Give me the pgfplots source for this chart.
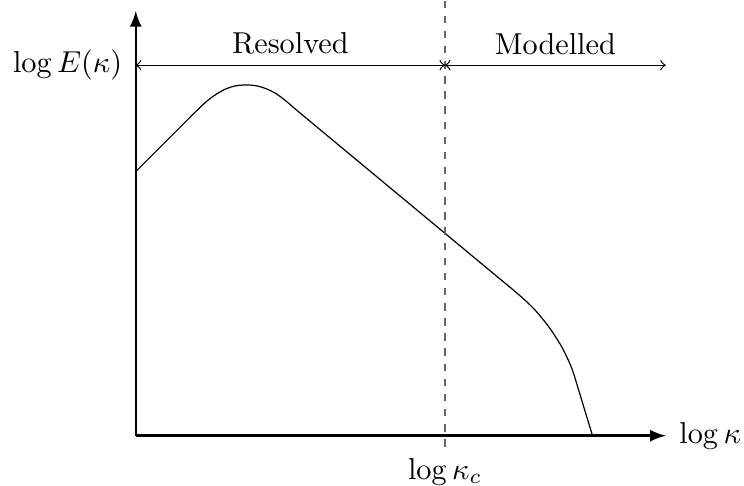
\documentclass[border=0pt]{standalone}
\usepackage{pgfplots}
\pgfplotsset{compat=1.18}
\begin{document}
\begin{tikzpicture}
\begin{axis}[
 scale only axis, width=175.2pt, height=140.4pt,
 xmin=0, xmax=528, ymin=0, ymax=423,
 axis lines=left, axis line style={thick,-latex},
 xtick={308}, xticklabels={$\log\kappa_c$}, ytick=\empty,
 major tick length=0pt,
 xticklabel style={inner sep=0pt, anchor=north, yshift=-7.3pt},
 clip=false,
]
\addplot[black, no marks] coordinates {(0,263) (40,303)};
\addplot[black, no marks, smooth, tension=0.5] coordinates {
(40,303) (50,313) (60,323) (70,332.5) (80,340) (90,345.5) (100,348.5) (110,349.3) (120,348.5) (130,345.5) (140,340.5) (150,333) (160,324.4) (170,316.1)};
\addplot[black, no marks] coordinates {(170,316.1) (340,175)};
\addplot[black, no marks, smooth, tension=0.5] coordinates {
(340,175) (360,158.4) (380,141.8) (396,127) (411,109) (424,89) (434,68) (441,46) (448,23) (455,0)};
\addplot[black!60, line width=0.6pt, dash pattern=on 2.5pt off 2.5pt, no marks] coordinates {(308,-11) (308,433)};
\addplot[<->, no marks] coordinates {(0,369) (308,369)};
\addplot[<->, no marks] coordinates {(308,369) (528,369)};
\node[anchor=south] at (axis cs:154,369) {Resolved};
\node[anchor=south] at (axis cs:418,369) {Modelled};
\node[anchor=east, inner xsep=4.3pt] at (axis cs:0,369) {$\log E(\kappa)$};
\node[anchor=west, inner xsep=1pt, xshift=3.3pt] at (axis cs:528,0) {$\log\kappa$};
\end{axis}
\end{tikzpicture}
\end{document}
